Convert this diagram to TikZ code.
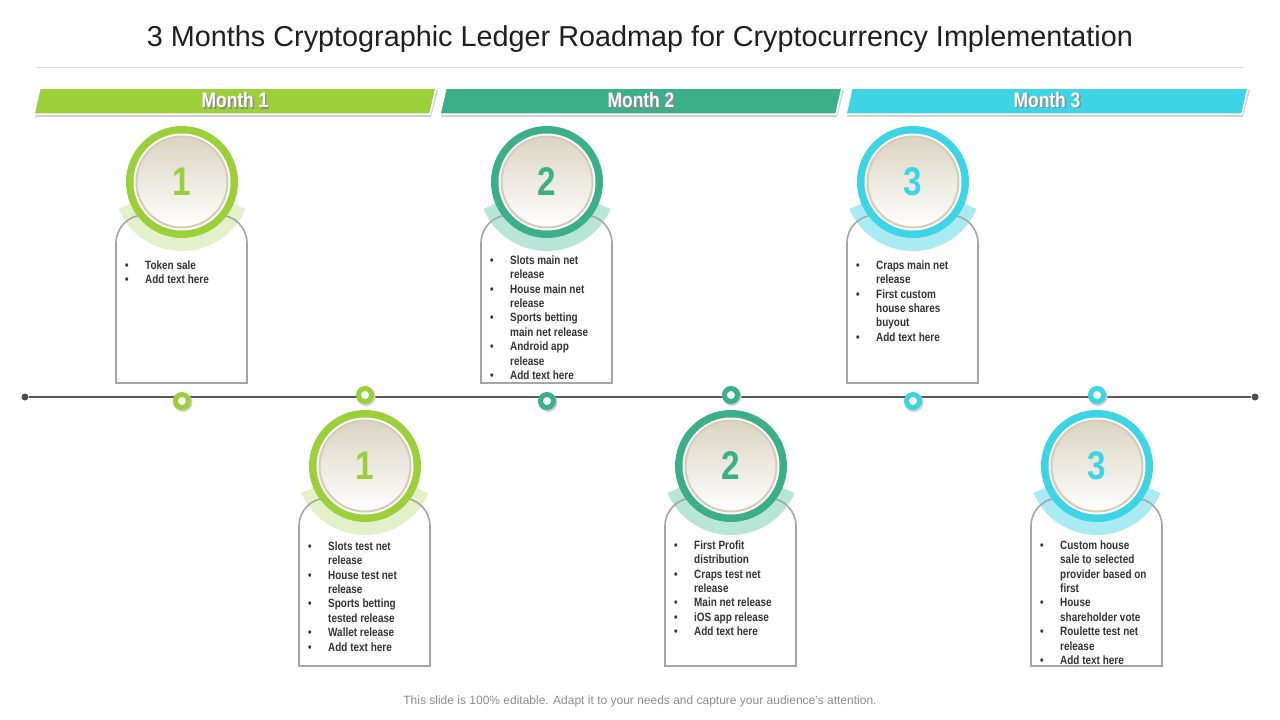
\documentclass[tikz,border=0pt]{standalone}
\usepackage{fontspec}
\setmainfont{Liberation Sans}
\newfontfamily\narrowfont[FakeStretch=0.83]{Liberation Sans}

\definecolor{mgreen}{HTML}{9BD03A}
\definecolor{lgreen}{HTML}{E3F1CB}
\definecolor{mteal}{HTML}{3AAF88}
\definecolor{lteal}{HTML}{B8E6D6}
\definecolor{mcyan}{HTML}{3DD5E6}
\definecolor{lcyan}{HTML}{AAEAF3}
\definecolor{discbeige}{HTML}{DAD4C1}
\definecolor{discrim}{HTML}{D3CCB7}
\definecolor{cardgray}{HTML}{A6A6A6}
\definecolor{textdark}{HTML}{333333}
\definecolor{titlegray}{HTML}{1F1F1F}
\definecolor{footgray}{HTML}{8C8C8C}

\begin{document}
\begin{tikzpicture}[x=1pt, y=1pt,
        banner/.style={fill=#1, draw=white, line width=1.5pt},
        bannertext/.style={font=\narrowfont\bfseries\fontsize{21}{25}\selectfont, text=white},
        card/.style={draw=cardgray, line width=1.6pt},
        cardtext/.style={font=\narrowfont\bfseries\fontsize{12}{14.4}\selectfont, text=textdark,
            anchor=north west, inner sep=0pt, align=left},
        badge/.style={circle, fill=#1, minimum size=112pt, inner sep=0pt},
        bignum/.style={font=\narrowfont\bfseries\fontsize{40}{42}\selectfont, text=#1},
        tickring/.style={circle, draw=#1, line width=5pt, fill=white, minimum size=13pt, inner sep=0pt},
        enddot/.style={circle, fill=black!70, minimum size=7pt, inner sep=0pt}]

        \useasboundingbox (0,0) rectangle (1280,-720);

        % title
        \node[font=\fontsize{28.8}{34}\selectfont, text=titlegray] (title) at (640,-39)
            {3 Months Cryptographic Ledger Roadmap for Cryptocurrency Implementation};
        \draw[black!15, line width=0.8pt] (37,-67) -- (1243,-67);

        % month banners
        \foreach \i/\c in {1/mgreen, 2/mteal, 3/mcyan} {
            \pgfmathsetmacro\bx{34+406*(\i-1)}
            \fill[black!18] (\bx+1,-117) -- (\bx+397,-117) -- (\bx+404,-90) -- (\bx+8,-90) -- cycle;
            \draw[banner=\c] (\bx,-114) -- (\bx+396,-114) -- (\bx+402,-88) -- (\bx+6,-88) -- cycle;
            \node[bannertext, text=black!45] (month\i-shadow) at (\bx+202.5,-101.5) {Month \i};
            \node[bannertext] (month\i) at (\bx+201,-100) {Month \i};
        }

        % timeline
        \node[enddot] (tl-left) at (25,-397) {};
        \node[enddot] (tl-right) at (1255,-397) {};
        \draw[black!65, line width=1.2pt] (tl-left) -- (tl-right);

        % milestones: index/x/circle y/card top/ring y/colour/light colour/number
        \foreach \i/\x/\y/\t/\r/\c/\l/\n in {
                1/182/182/215/401/mgreen/lgreen/1,
                2/365/466/498/395/mgreen/lgreen/1,
                3/547/182/215/401/mteal/lteal/2,
                4/731/466/498/395/mteal/lteal/2,
                5/913/182/215/401/mcyan/lcyan/3,
                6/1097/466/498/395/mcyan/lcyan/3} {
            % card and collar
            \fill[white] (\x-66,-\t-168) [rounded corners=28pt] -- (\x-66,-\t) -- (\x+65,-\t) [sharp corners] -- (\x+65,-\t-168) -- cycle;
            \fill[\l] (\x,-\y) -- ++(-157:69pt) arc[start angle=-157, end angle=-23, radius=69pt] -- cycle;
            \draw[card] (\x-66,-\t-168) [rounded corners=28pt] -- (\x-66,-\t) -- (\x+65,-\t) [sharp corners] -- (\x+65,-\t-168) -- cycle;
            % number badge
            \node[badge=\c] (badge\i) at (\x,-\y) {};
            \fill[white] (badge\i.center) circle[radius=48.5pt];
            \shade[top color=discbeige, bottom color=white] (badge\i.center) circle[radius=46pt];
            \draw[discrim, line width=2pt] (badge\i.center) circle[radius=45.5pt];
            \node[bignum=\c] (num\i) at (badge\i.center) {\n};
            % ring on the timeline
            \fill[black!18] (\x+1,-\r-1.5) circle[radius=9.5pt];
            \node[tickring=\c] (tick\i) at (\x,-\r) {};
        }

        % card texts
        \node[cardtext] (text1) at (125,-259) {\begin{tabular}{@{}p{20pt}@{}l@{}}
            \textbullet & Token sale\\
            \textbullet & Add text here
        \end{tabular}};
        \node[cardtext] (text2) at (308,-540) {\begin{tabular}{@{}p{20pt}@{}l@{}}
            \textbullet & Slots test net\\
                        & release\\
            \textbullet & House test net\\
                        & release\\
            \textbullet & Sports betting\\
                        & tested release\\
            \textbullet & Wallet release\\
            \textbullet & Add text here
        \end{tabular}};
        \node[cardtext] (text3) at (490,-254) {\begin{tabular}{@{}p{20pt}@{}l@{}}
            \textbullet & Slots main net\\
                        & release\\
            \textbullet & House main net\\
                        & release\\
            \textbullet & Sports betting\\
                        & main net release\\
            \textbullet & Android app\\
                        & release\\
            \textbullet & Add text here
        \end{tabular}};
        \node[cardtext] (text4) at (674,-539) {\begin{tabular}{@{}p{20pt}@{}l@{}}
            \textbullet & First Profit\\
                        & distribution\\
            \textbullet & Craps test net\\
                        & release\\
            \textbullet & Main net release\\
            \textbullet & iOS app release\\
            \textbullet & Add text here
        \end{tabular}};
        \node[cardtext] (text5) at (856,-259) {\begin{tabular}{@{}p{20pt}@{}l@{}}
            \textbullet & Craps main net\\
                        & release\\
            \textbullet & First custom\\
                        & house shares\\
                        & buyout\\
            \textbullet & Add text here
        \end{tabular}};
        \node[cardtext] (text6) at (1040,-539) {\begin{tabular}{@{}p{20pt}@{}l@{}}
            \textbullet & Custom house\\
                        & sale to selected\\
                        & provider based on\\
                        & first\\
            \textbullet & House\\
                        & shareholder vote\\
            \textbullet & Roulette test net\\
                        & release\\
            \textbullet & Add text here
        \end{tabular}};

        % footer
        \node[font=\fontsize{12}{14}\selectfont, text=footgray] (footer) at (640,-701)
            {This slide is 100\% editable. Adapt it to your needs and capture your audience's attention.};

    \end{tikzpicture}
\end{document}
